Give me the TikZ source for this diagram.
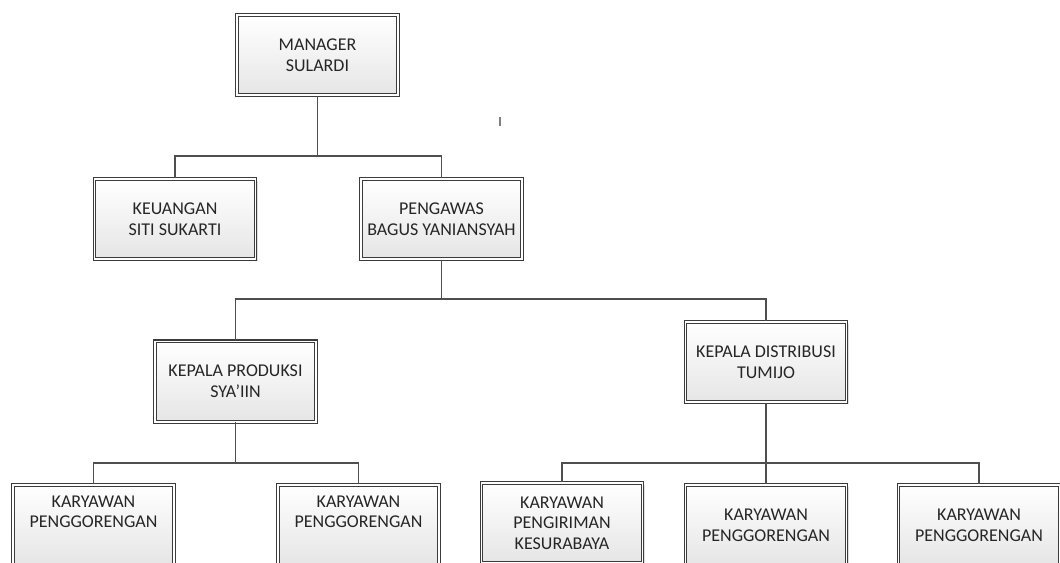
\documentclass[tikz,border=0pt]{standalone}
\usepackage{fontspec}
\setmainfont{Carlito}
\usetikzlibrary{shadows}
\definecolor{linegray}{HTML}{4F4F4F}
\definecolor{boxgray}{HTML}{3C3C3C}
\definecolor{textgray}{HTML}{262626}
\begin{document}
\begin{tikzpicture}[x=0.75pt, y=-0.75pt,
    post/.style={draw=boxgray, line width=0.8pt, double=white, double distance=1.3pt,
      top color=white, bottom color=black!10, minimum width=120.8pt, minimum height=60.2pt,
      inner sep=0pt, align=center, text=textgray,
      font=\fontsize{13.5pt}{15.5pt}\selectfont,
      drop shadow={shadow xshift=1.6pt, shadow yshift=-1.6pt, opacity=0.25, fill=black!50}},
    link/.style={draw=linegray, line width=1pt}]
  \useasboundingbox (0,0) rectangle (1060,562);
  \clip (0,0) rectangle (1060,562);

  % Boxes
  \node[post] (mgr)  at (317.5,55)  {MANAGER\\SULARDI};
  \node[post] (keu)  at (175,219)   {KEUANGAN\\SITI SUKARTI};
  \node[post] (peng) at (441.5,219) {PENGAWAS\\BAGUS YANIANSYAH};
  \node[post] (prod) at (235.5,381.5) {KEPALA PRODUKSI\\SYA’IIN};
  \node[post] (dist) at (766,362)   {KEPALA DISTRIBUSI\\TUMIJO};
  \node[post] (kar1) at (93.5,525)  {KARYAWAN\\PENGGORENGAN\\\strut};
  \node[post] (kar2) at (358.5,525) {KARYAWAN\\PENGGORENGAN\\\strut};
  \node[post] (kar3) at (562,523)   {KARYAWAN\\PENGIRIMAN\\KESURABAYA};
  \node[post] (kar4) at (766,525)   {KARYAWAN\\PENGGORENGAN};
  \node[post] (kar5) at (979,525)   {KARYAWAN\\PENGGORENGAN};

  % Bus lines
  \coordinate (bus1) at (0,156);
  \coordinate (bus2) at (0,299);
  \coordinate (bus3) at (0,463);

  % Connectors
  \draw[link] (mgr.south) -- (mgr.south |- bus1);
  \draw[link] (keu.north) |- (bus1 -| mgr.south);
  \draw[link] (peng.north) |- (bus1 -| mgr.south);

  \draw[link] (peng.south) -- (peng.south |- bus2);
  \draw[link] (prod.north) |- (bus2 -| peng.south);
  \draw[link] (dist.north) |- (bus2 -| peng.south);

  \draw[link] (prod.south) -- (prod.south |- bus3);
  \draw[link] (kar1.north) |- (bus3 -| prod.south);
  \draw[link] (kar2.north) |- (bus3 -| prod.south);

  \draw[link] (dist.south) -- (kar4.north);
  \draw[link] (kar3.north) |- (bus3 -| dist.south);
  \draw[link] (kar5.north) |- (bus3 -| dist.south);

  % stray mark
  \draw[gray, line width=1.2pt] (500,117) -- (500,126);
\end{tikzpicture}
\end{document}
